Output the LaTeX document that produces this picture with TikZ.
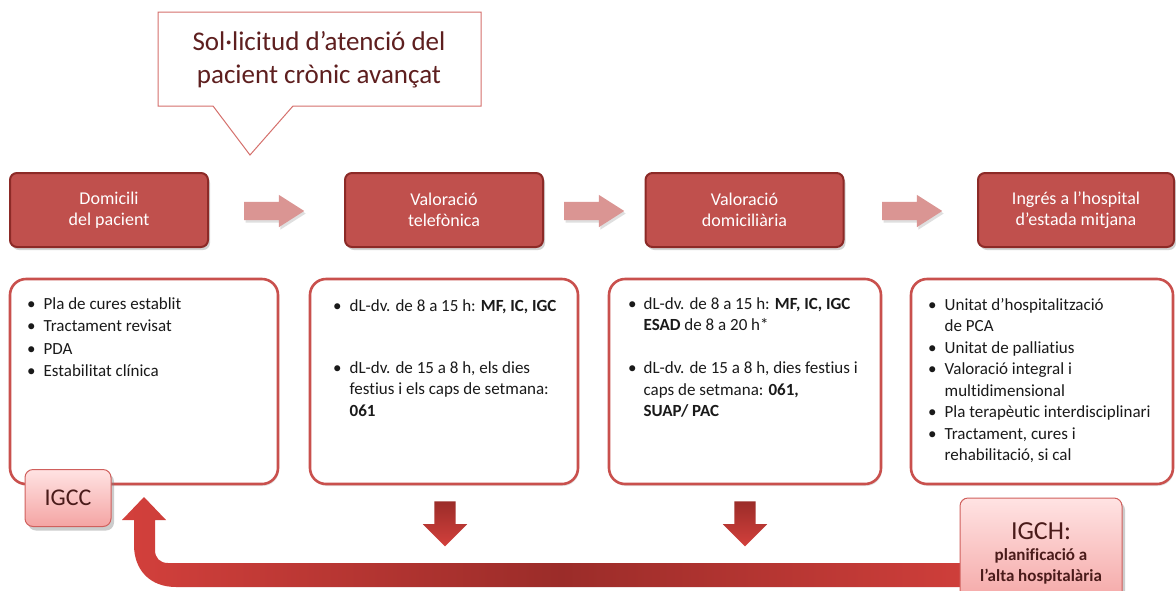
\documentclass[tikz,border=0pt]{standalone}
\usepackage{fontspec}
\setmainfont{Carlito}[Ligatures={TeX,NoCommon}]
\usetikzlibrary{shapes.arrows,shadows,positioning}

\definecolor{headred}{HTML}{C0504D}
\definecolor{headline}{HTML}{8C2A27}
\definecolor{boxline}{HTML}{C9504D}
\definecolor{calloutline}{HTML}{D5706C}
\definecolor{callouttext}{HTML}{5E1F1F}
\definecolor{arrowpink}{HTML}{DA9593}
\definecolor{darkarrow}{HTML}{9B2C29}
\definecolor{lightarrow}{HTML}{D3403C}
\definecolor{tagtop}{HTML}{FFE3E3}
\definecolor{tagbottom}{HTML}{F4A4A3}
\definecolor{tagline}{HTML}{D0605D}
\definecolor{tagtext}{HTML}{4A1B1A}
\definecolor{bodytext}{HTML}{1A1A1A}

\begin{document}
\begin{tikzpicture}[x=1pt,y=-1pt]

\tikzset{HeadBox/.style={rectangle, rounded corners=7pt, fill=headred, draw=headline, line width=2pt, minimum width=198pt, minimum height=74pt, text=white, align=center, font=\fontsize{18}{21}\selectfont, drop shadow={opacity=.35, shadow xshift=2pt, shadow yshift=-3pt}},
InfoBox/.style={rectangle, rounded corners=16pt, draw=boxline, line width=2.6pt, fill=white, minimum height=205pt, drop shadow={opacity=.2, shadow xshift=1pt, shadow yshift=-2pt}},
ListText/.style={inner sep=0pt, anchor=base west, text=bodytext, font=\fontsize{17}{21.5}\selectfont},
RightArr/.style={single arrow, fill=arrowpink, minimum height=60pt, minimum width=32pt, single arrow head extend=7pt, single arrow tip angle=65, inner xsep=0pt, inner ysep=9pt, drop shadow={opacity=.25, shadow xshift=1.5pt, shadow yshift=-2.5pt}},
DownArr/.style={single arrow, shape border rotate=270, top color=darkarrow, bottom color=lightarrow, minimum height=45pt, minimum width=44pt, single arrow head extend=11.5pt, inner sep=10.5pt},
PinkTag/.style={rectangle, rounded corners=8pt, top color=tagtop, bottom color=tagbottom, draw=tagline, line width=1pt, text=tagtext, drop shadow={opacity=.4, shadow xshift=3pt, shadow yshift=-4pt}}};

\useasboundingbox (0,0) rectangle (1176,590);
\fill[white] (0,0) rectangle (1176,590);

% request callout
\draw[draw=calloutline, line width=1pt, fill=white] (158,12) -- (481,12) -- (481,106) -- (293,106) -- (250,155) -- (213,106) -- (158,106) -- cycle;
\node[text=callouttext, align=center, font=\fontsize{27}{33}\selectfont] (req) at (319,60) {Sol·licitud d’atenció del\\pacient crònic avançat};

% steps
\node[HeadBox] (dom) at (109,210) {Domicili\\del pacient};
\node[HeadBox] (tel) at (444,210) {Valoració\\telefònica};
\node[HeadBox] (dv) at (744.5,210) {Valoració\\domiciliària};
\node[HeadBox, minimum width=196pt] (ing) at (1076,210) {Ingrés a l’hospital\\d’estada mitjana};

\node[RightArr] (ra) at (267,211) {};
\node[RightArr] (rb) at (587,211) {};
\node[RightArr] (rc) at (905,211) {};

% details
\node[InfoBox, minimum width=268pt] (boxA) at (144,381.5) {};
\node[InfoBox, minimum width=268pt] (boxB) at (444,381.5) {};
\node[InfoBox, minimum width=272pt] (boxC) at (745,381.5) {};
\node[InfoBox, minimum width=262pt] (boxD) at (1042,381.5) {};

\node[ListText, font=\fontsize{17}{22.5}\selectfont] (listA) at (27,309) {\begin{tabular}[t]{@{}l@{\hskip 8pt}l@{}}
\textbullet & Pla de cures establit\\
\textbullet & Tractament revisat\\
\textbullet & PDA\\
\textbullet & Estabilitat clínica
\end{tabular}};

\node[ListText] (listB) at (333,311) {\begin{tabular}[t]{@{}l@{\hskip 8pt}l@{}}
\textbullet & dL-dv. de 8 a 15 h: \textbf{MF, IC, IGC}\\[40.5pt]
\textbullet & dL-dv. de 15 a 8 h, els dies\\
 & festius i els caps de setmana:\\
 & \textbf{061}
\end{tabular}};

\node[ListText] (listC) at (628,309) {\begin{tabular}[t]{@{}l@{\hskip 7pt}l@{}}
\textbullet & dL-dv. de 8 a 15 h: \textbf{MF, IC, IGC}\\
 & \textbf{ESAD} de 8 a 20 h*\\[21.5pt]
\textbullet & dL-dv. de 15 a 8 h, dies festius i\\
 & caps de setmana: \textbf{061,}\\
 & \textbf{SUAP/ PAC}
\end{tabular}};

\node[ListText] (listD) at (928,310) {\begin{tabular}[t]{@{}l@{\hskip 8pt}l@{}}
\textbullet & Unitat d'hospitalització\\
 & de PCA\\
\textbullet & Unitat de palliatius\\
\textbullet & Valoració integral i\\
 & multidimensional\\
\textbullet & Pla terapèutic interdisciplinari\\
\textbullet & Tractament, cures i\\
 & rehabilitació, si cal
\end{tabular}};

% way back
\node[DownArr] (da) at (445,518.5) {};
\node[DownArr] (db) at (745,518.5) {};

\shade[left color=lightarrow, right color=lightarrow, middle color=darkarrow] (1000,563) -- (168,563) .. controls (160,563) and (155,558) .. (155,550) -- (155,520) -- (166,520) -- (144,497) -- (122,520) -- (134,520) -- (134,545) .. controls (134,570) and (150,587) .. (176,587) -- (1000,587) -- cycle;

\node[PinkTag, minimum width=86pt, minimum height=57pt, font=\fontsize{24}{26}\selectfont] (igcc) at (68,498) {IGCC};
\node[PinkTag, minimum width=162pt, minimum height=110pt, align=center, font=\fontsize{17}{21}\selectfont\bfseries] (igch) at (1041,553) {{\fontsize{26}{28}\selectfont\mdseries IGCH:}\\planificació a\\l’alta hospitalària};

\end{tikzpicture}
\end{document}
